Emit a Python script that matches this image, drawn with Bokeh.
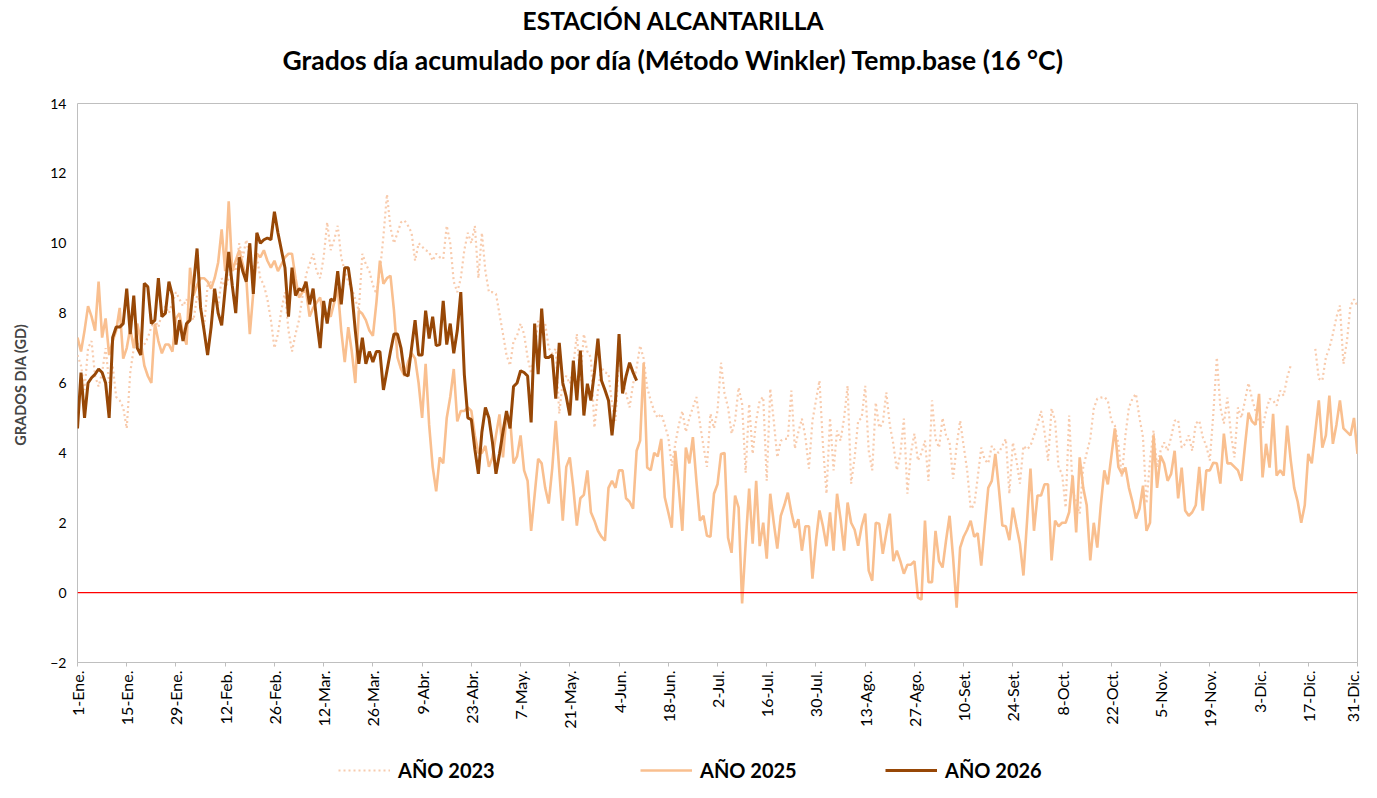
import numpy as np
from bokeh.plotting import figure
from bokeh.layouts import column
from bokeh.models import Span, Label, Legend, LegendItem, FixedTicker, Range1d
from bokeh.embed import file_html
from bokeh.resources import INLINE

nan = float("nan")

tick_labels = ["1-Ene.", "15-Ene.", "29-Ene.", "12-Feb.", "26-Feb.", "12-Mar.", "26-Mar.",
               "9-Abr.", "23-Abr.", "7-May.", "21-May.", "4-Jun.", "18-Jun.", "2-Jul.",
               "16-Jul.", "30-Jul.", "13-Ago.", "27-Ago.", "10-Set.", "24-Set.", "8-Oct.",
               "22-Oct.", "5-Nov.", "19-Nov.", "3-Dic.", "17-Dic.", "31-Dic."]
tick_days = [1 + 14 * i for i in range(len(tick_labels))]

days = list(range(1, 366))

y2023 = [
6.8, 6.5, 5.8, 7.0, 7.2, 6.2, 5.9, 6.3, 7.0, 6.0,
6.5, 5.6, 5.5, 5.3, 4.7, 6.3, 7.0, 7.1, 7.2, 7.1,
7.3, 7.6, 7.8, 7.6, 8.0, 8.2, 8.0, 8.3, 8.6, 8.4,
8.2, 8.4, 8.0, 7.8, 8.5, 8.3, 7.6, 8.8, 8.9, 8.5,
8.2, 9.0, 8.7, 9.0, 9.3, 9.2, 10.0, 9.6, 10.1, 9.6,
9.2, 9.6, 9.0, 8.8, 8.4, 7.8, 7.0, 7.4, 8.1, 8.6,
7.5, 6.9, 7.4, 7.8, 8.5, 9.1, 9.4, 9.7, 9.2, 9.0,
9.6, 10.6, 9.8, 10.1, 10.5, 9.6, 9.2, 8.9, 8.7, 8.4,
8.07, 9.7, 9.4, 9.2, 8.8, 8.55, 9.2, 10.2, 11.4, 10.45,
10.0, 10.3, 10.6, 10.65, 10.5, 10.3, 9.5, 10.0, 9.9, 9.8,
9.75, 9.5, 9.7, 9.6, 9.55, 10.5, 10.0, 8.9, 8.6, 9.0,
9.8, 10.3, 10.0, 10.5, 9.0, 10.3, 9.2, 8.6, 8.6, 8.55,
7.98, 7.4, 6.8, 6.5, 7.2, 7.35, 7.7, 7.4, 6.73, 6.27,
6.9, 7.78, 7.5, 7.7, 7.0, 6.84, 6.98, 5.12, 6.07, 6.2,
5.98, 6.5, 7.4, 6.07, 7.4, 6.9, 6.73, 4.72, 5.78, 6.44,
6.3, 6.27, 5.4, 4.92, 6.8, 6.07, 5.7, 5.3, 5.98, 6.44,
7.07, 6.7, 5.87, 5.5, 5.2, 5.0, 5.12, 4.8, 4.45, 3.63,
4.26, 4.8, 5.2, 4.6, 5.0, 5.3, 5.6, 4.84, 4.2, 3.6,
5.12, 4.7, 5.2, 6.58, 5.7, 5.3, 4.55, 4.92, 5.87, 5.4,
3.43, 5.4, 3.97, 4.92, 5.5, 5.6, 3.2, 5.84, 4.92, 3.87,
4.35, 4.4, 4.4, 5.78, 4.12, 4.6, 4.98, 4.45, 3.55, 4.92,
5.5, 6.07, 4.2, 2.83, 5.0, 3.5, 4.64, 4.35, 5.0, 5.92,
3.12, 3.87, 4.92, 5.0, 5.92, 4.06, 3.5, 5.44, 4.72, 4.84,
5.73, 4.8, 4.26, 3.5, 3.97, 4.98, 2.83, 4.0, 4.55, 3.78,
4.0, 4.35, 3.2, 5.5, 4.4, 4.15, 5.0, 4.5, 4.3, 3.26,
4.2, 4.92, 4.2, 3.5, 2.4, 2.5, 3.3, 4.15, 3.8, 3.7,
4.2, 4.06, 4.0, 4.2, 4.4, 2.83, 4.3, 3.8, 3.12, 4.2,
4.1, 4.2, 4.5, 4.8, 5.2, 4.6, 3.78, 5.27, 4.92, 3.58,
3.4, 2.43, 5.07, 2.92, 2.6, 2.26, 3.58, 4.0, 4.4, 5.27,
5.55, 5.58, 5.6, 5.5, 4.92, 4.78, 4.26, 3.3, 4.5, 5.3,
5.55, 5.69, 5.0, 4.45, 2.55, 3.78, 4.64, 3.58, 4.06, 4.3,
4.06, 4.45, 4.92, 4.94, 4.15, 4.26, 4.5, 4.06, 4.84, 4.92,
4.45, 4.2, 3.78, 5.12, 6.73, 5.3, 4.84, 5.58, 4.55, 3.87,
5.3, 5.0, 5.5, 6.0, 5.55, 5.2, 4.87, 4.72, 5.2, 5.55,
5.5, 5.35, 5.78, 5.64, 6.15, 6.5, nan, nan, nan, nan,
nan, nan, 6.98, 6.12, 6.07, 6.73, 7.0, 7.4, 7.88, 8.22,
6.55, 7.2, 8.2, 8.4, 8.2]

y2025 = [
7.3, 6.9, 7.5, 8.2, 7.9, 7.5, 8.9, 7.3, 7.85, 6.8,
7.2, 7.5, 8.15, 6.7, 7.0, 7.56, 7.0, 7.7, 7.2, 6.5,
6.2, 6.0, 7.7, 7.2, 6.85, 7.1, 7.1, 6.9, 7.85, 8.0,
7.4, 7.1, 9.3, 8.5, 8.8, 9.0, 9.0, 8.9, 8.7, 9.0,
9.45, 10.4, 9.2, 11.2, 9.2, 9.5, 9.8, 9.4, 9.0, 7.4,
8.6, 9.7, 9.6, 9.8, 9.5, 9.3, 9.5, 9.2, 9.4, 9.6,
9.7, 9.7, 9.0, 8.45, 8.6, 8.64, 7.9, 8.15, 8.3, 8.45,
7.9, 8.0, 7.9, 8.3, 8.73, 7.5, 6.6, 7.6, 6.9, 6.0,
8.07, 7.98, 7.8, 7.5, 7.35, 8.3, 9.5, 8.84, 9.0, 9.07,
8.07, 6.73, 6.4, 6.2, 6.6, 6.85, 6.7, 6.0, 5.0, 6.55,
4.8, 3.6, 2.9, 3.87, 3.7, 5.0, 5.6, 6.4, 4.9, 5.2,
5.2, 5.3, 5.2, 4.5, 4.0, 4.0, 4.2, 3.6, 3.87, 4.5,
5.1, 3.87, 5.1, 5.0, 3.7, 3.9, 4.5, 3.5, 3.2, 1.77,
2.8, 3.83, 3.7, 3.0, 2.55, 3.55, 4.92, 3.5, 2.06, 3.6,
3.87, 3.0, 1.92, 2.7, 2.8, 3.5, 2.3, 2.06, 1.77, 1.6,
1.49, 3.0, 3.2, 3.0, 3.5, 3.5, 2.7, 2.6, 2.4, 4.06,
4.35, 6.58, 3.58, 3.5, 4.0, 3.9, 4.4, 2.73, 2.3, 1.86,
4.06, 3.0, 1.77, 4.15, 3.7, 4.45, 3.2, 2.06, 2.2, 1.63,
1.6, 2.83, 3.1, 3.97, 4.0, 1.57, 1.14, 2.78, 2.43, -0.31,
1.4, 2.98, 1.4, 3.2, 1.33, 2.0, 0.97, 2.83, 2.0, 1.26,
2.2, 2.5, 2.86, 2.3, 1.86, 2.1, 1.2, 1.9, 1.9, 0.4,
1.5, 2.35, 1.9, 1.33, 2.3, 1.2, 2.83, 2.1, 1.2, 2.58,
2.0, 1.8, 1.34, 1.9, 2.26, 0.63, 0.34, 2.0, 1.97, 1.11,
1.7, 2.26, 0.9, 1.2, 0.9, 0.54, 0.8, 0.8, 0.9, -0.14,
-0.2, 2.06, 0.3, 0.3, 1.77, 0.9, 0.72, 1.5, 2.2, 1.0,
-0.43, 1.29, 1.6, 1.8, 2.06, 1.6, 1.7, 0.77, 1.9, 3.0,
3.2, 3.97, 3.0, 1.92, 1.9, 1.5, 2.43, 1.9, 1.4, 0.49,
2.0, 3.55, 1.77, 2.78, 2.78, 3.1, 3.1, 0.92, 2.06, 1.9,
2.0, 2.0, 2.3, 3.35, 1.72, 3.87, 3.0, 2.5, 0.92, 2.0,
1.29, 2.5, 3.5, 3.1, 3.9, 4.7, 3.6, 3.4, 3.58, 3.0,
2.6, 2.12, 2.4, 3.06, 1.77, 2.0, 4.5, 3.0, 3.92, 3.7,
3.2, 3.4, 4.06, 2.7, 3.58, 2.35, 2.2, 2.3, 2.5, 3.6,
2.35, 3.5, 3.5, 3.72, 3.7, 3.12, 4.55, 3.7, 3.7, 3.6,
3.5, 3.2, 4.2, 5.15, 4.9, 4.8, 5.69, 3.3, 4.26, 3.58,
5.12, 3.35, 3.5, 3.35, 4.78, 3.8, 3.0, 2.6, 2.0, 2.5,
3.97, 3.7, 4.6, 5.5, 4.15, 4.5, 5.64, 4.26, 4.8, 5.5,
4.7, 4.6, 4.5, 5.0, 3.97]

y2026 = [
4.7, 6.3, 5.0, 6.0, 6.15, 6.25, 6.4, 6.3, 6.0, 5.0,
7.3, 7.6, 7.6, 7.7, 8.7, 7.4, 8.5, 7.0, 6.8, 8.85,
8.75, 7.7, 7.8, 9.0, 7.9, 8.0, 8.9, 8.5, 7.1, 7.8,
7.2, 7.7, 7.8, 8.8, 9.85, 8.15, 7.5, 6.8, 7.6, 8.7,
8.0, 7.65, 8.7, 9.75, 8.8, 8.0, 9.6, 9.2, 8.9, 10.0,
8.55, 10.3, 10.0, 10.1, 10.15, 10.1, 10.9, 10.3, 9.8, 9.3,
7.9, 9.3, 8.5, 8.7, 8.64, 8.9, 8.25, 8.7, 7.8, 7.0,
8.35, 7.7, 8.4, 8.35, 9.2, 8.25, 9.3, 9.3, 8.6, 7.5,
6.55, 7.3, 6.55, 6.9, 6.6, 6.9, 6.9, 5.8, 6.35, 6.9,
7.4, 7.4, 7.0, 6.25, 6.2, 7.0, 7.8, 6.8, 6.8, 8.07,
7.27, 7.9, 7.07, 7.1, 8.35, 7.1, 7.7, 6.85, 7.5, 8.6,
6.25, 5.0, 4.95, 4.1, 3.4, 4.6, 5.3, 5.0, 4.3, 3.4,
3.97, 4.6, 5.2, 4.7, 5.9, 6.0, 6.35, 6.3, 6.2, 4.87,
7.7, 6.25, 8.13, 6.73, 6.73, 6.8, 5.55, 7.15, 6.0, 5.6,
5.07, 6.64, 5.5, 6.93, 5.07, 5.98, 5.5, 6.3, 7.27, 6.07,
5.8, 5.5, 4.5, 5.5, 7.4, 5.7, 6.2, 6.58, 6.3, 6.07]

series_labels = ["AÑO 2023", "AÑO 2025", "AÑO 2026"]
title1 = "ESTACIÓN ALCANTARILLA"
title2 = "Grados día acumulado por día (Método Winkler) Temp.base (16 °C)"

assert len(y2023) == 365 and len(y2025) == 365

FONT = "Lato"
W = 1361
FL, FR = 77, 1357          # plot-frame left / right edge (px)
C23, C25, C26 = "#F8CBAD", "#F9BF8F", "#974706"
S23 = dict(line_color=C23, line_width=2.2, line_dash="2 3")
S25 = dict(line_color=C25, line_width=2.6)
S26 = dict(line_color=C26, line_width=3)


def strip(h):
    # frames of a column are aligned with the main chart's frame: x in page pixels
    f = figure(width=W, height=h, output_backend="svg", toolbar_location=None,
               x_range=Range1d(FL, FR), y_range=Range1d(h, 0),
               x_axis_location=None, y_axis_location=None, min_border=0)
    f.xgrid.visible = False
    f.ygrid.visible = False
    f.outline_line_color = None
    return f


# ---- title strip ----
TH = 80
pt = strip(TH)
for txt, yy, fs in [(title1, 20, "24.5px"), (title2, 59, "26.5px")]:
    pt.add_layout(Label(x=673, y=yy, text=txt, text_align="center", text_baseline="middle",
                        text_font=FONT, text_font_style="bold", text_font_size=fs,
                        text_color="#000000"))

# ---- main chart ----
MH = 742 - TH
p = figure(width=W, height=MH, output_backend="svg", toolbar_location=None,
           x_range=Range1d(1, 365), y_range=Range1d(-2, 14),
           min_border_left=FL, min_border_right=W - FR, min_border_top=103 - TH,
           min_border_bottom=742 - 662)
p.xgrid.visible = False
p.ygrid.visible = False
p.outline_line_color = "#BFBFBF"

p.xaxis.ticker = FixedTicker(ticks=tick_days)
p.xaxis.major_label_overrides = {d: l for d, l in zip(tick_days, tick_labels)}
p.xaxis.major_label_orientation = np.pi / 2
p.xaxis.major_label_text_font = FONT
p.xaxis.major_label_text_font_size = "16px"
p.xaxis.major_label_text_color = "#000000"
p.xaxis.major_label_standoff = 4
p.xaxis.axis_line_color = "#BFBFBF"
p.xaxis.major_tick_line_color = "#BFBFBF"
p.xaxis.major_tick_in = 0
p.xaxis.major_tick_out = 4
p.xaxis.minor_tick_line_color = None

p.yaxis.ticker = FixedTicker(ticks=list(range(-2, 15, 2)))
p.yaxis.major_label_text_font = FONT
p.yaxis.major_label_text_font_size = "14px"
p.yaxis.major_label_text_color = "#000000"
p.yaxis.axis_line_color = None
p.yaxis.major_tick_line_color = None
p.yaxis.minor_tick_line_color = None
p.yaxis.axis_label = "GRADOS DIA  (GD)"
p.yaxis.axis_label_text_font = FONT
p.yaxis.axis_label_text_font_style = "bold"
p.yaxis.axis_label_text_font_size = "14.5px"
p.yaxis.axis_label_standoff = 18

p.add_layout(Span(location=0, dimension="width", line_color="#FF0000", line_width=1.2))

p.line(days, np.array(y2023), **S23)
p.line(days, y2025, **S25)
p.line(days[:len(y2026)], y2026, **S26)

# ---- legend strip ----
LH = 782 - 742
pl = strip(LH)
for lab, style, lx in zip(series_labels, [S23, S25, S26], [338, 640, 885]):
    # invisible sample renderer (placed outside the strip's range) that gives the legend its line style
    r = pl.line([FL - 500, FL - 400], [-500, -500], **style)
    lg = Legend(items=[LegendItem(label=lab, renderers=[r])], location=(lx - FL, 0),
                orientation="horizontal", padding=0, margin=0, border_line_color=None,
                background_fill_alpha=0, label_text_font=FONT, label_text_font_style="bold",
                label_text_font_size="20px", label_text_color="#000000",
                glyph_width=52, glyph_height=22, label_standoff=8, label_height=22)
    pl.add_layout(lg, "center")

layout = column(pt, p, pl, spacing=0)
open("out.html", "w").write(file_html(layout, INLINE))
